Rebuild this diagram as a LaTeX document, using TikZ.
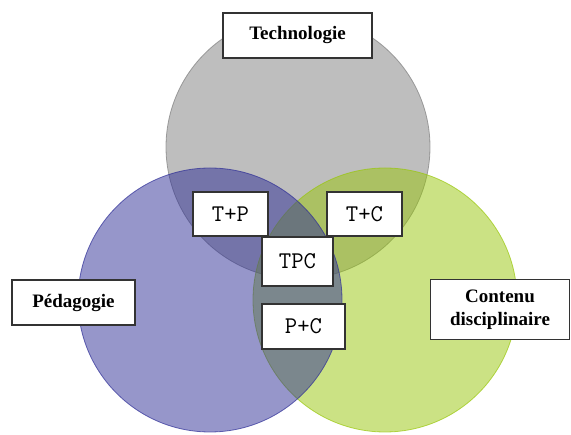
\documentclass[tikz,border=0pt]{standalone}
\usepackage{fontspec}
\setmainfont{Liberation Serif}
\usepackage{tikz}

\definecolor{techgray}{RGB}{125,125,125}
\definecolor{pedblue}{RGB}{45,45,150}
\definecolor{contgreen}{RGB}{152,198,10}

\begin{document}
\begin{tikzpicture}[x=1pt,y=-1pt,
  set node/.style={circle,draw,line width=0.8pt,minimum size=264pt,inner sep=0pt,fill opacity=0.5,draw opacity=0.7},
  main node/.style={rectangle,draw=black!80,line width=1.3pt,fill=white,align=center,inner sep=0pt,font=\bfseries\fontsize{19}{23}\selectfont},
  part node/.style={rectangle,draw=black!80,line width=1.3pt,fill=white,inner sep=0pt,minimum width=75pt,minimum height=44pt,font=\ttfamily\fontsize{24}{26}\selectfont}]

  \useasboundingbox (0,0) rectangle (571,435);

  \node[set node,fill=techgray,draw=techgray] (tech) at (298,147) {};
  \node[set node,fill=contgreen,draw=contgreen] (cont) at (385,300) {};
  \node[set node,fill=pedblue,draw=pedblue] (ped) at (210,300) {};

  \node[main node,minimum width=149pt,minimum height=45pt] (T) at (297.5,35.5) {Technologie};
  \node[main node,minimum width=123pt,minimum height=45pt] (P) at (73.5,302.5) {Pédagogie};
  \node[main node,minimum width=139pt,minimum height=60pt] (C) at (500,309.5) {Contenu\\disciplinaire};

  \node[part node] (TP) at (230.5,214) {T+P};
  \node[part node] (TC) at (364.5,214) {T+C};
  \node[part node,minimum width=71pt,minimum height=49pt] (TPC) at (297.5,261.5) {TPC};
  \node[part node,minimum width=83pt,minimum height=45pt] (PC) at (303.5,326.5) {P+C};
\end{tikzpicture}
\end{document}
